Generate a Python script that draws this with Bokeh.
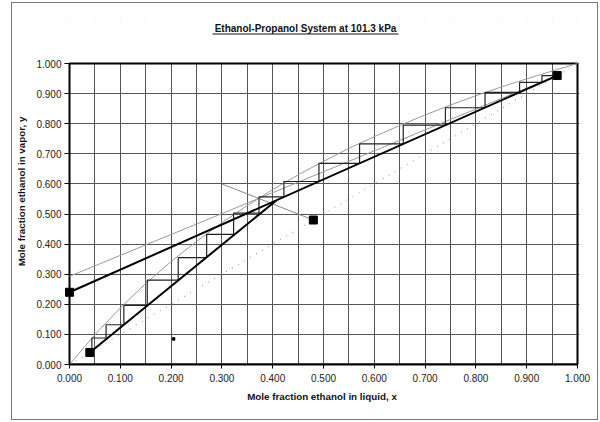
from bokeh.plotting import figure
from bokeh.models import FixedTicker, NumeralTickFormatter, Range1d
from bokeh.core.properties import value
from bokeh.embed import file_html
from bokeh.resources import INLINE

# ---------------- data ----------------
title_text = "Ethanol-Propanol System at 101.3 kPa"
x_label = "Mole fraction ethanol in liquid, x"
y_label = "Mole fraction ethanol in vapor, y"

x_ticks = [0.0, 0.1, 0.2, 0.3, 0.4, 0.5, 0.6, 0.7, 0.8, 0.9, 1.0]
x_minor = [0.05, 0.15, 0.25, 0.35, 0.45, 0.55, 0.65, 0.75, 0.85, 0.95]
y_ticks = [0.0, 0.1, 0.2, 0.3, 0.4, 0.5, 0.6, 0.7, 0.8, 0.9, 1.0]

# equilibrium curve
eq_x = [0.0, 0.05, 0.10, 0.15, 0.20, 0.25, 0.30, 0.35, 0.40, 0.45, 0.50,
        0.55, 0.60, 0.65, 0.70, 0.75, 0.80, 0.85, 0.90, 0.95, 1.0]
eq_y = [0.0, 0.099, 0.188, 0.269, 0.342, 0.409, 0.471, 0.528, 0.581, 0.630, 0.675,
        0.718, 0.757, 0.794, 0.829, 0.862, 0.893, 0.922, 0.949, 0.975, 1.0]

# 45-degree line
diag_x = [0.0, 1.0]
diag_y = [0.0, 1.0]

# rectifying operating line
rect_x = [0.0, 0.96]
rect_y = [0.24, 0.96]

# stripping operating line
strip_x = [0.04, 0.407]
strip_y = [0.04, 0.545]

# q-line
q_x = [0.48, 0.30]
q_y = [0.48, 0.60]

# minimum reflux line
minr_x = [0.0, 0.96]
minr_y = [0.293, 0.96]

# stage stepping: x of each stage on equilibrium curve, y levels
stage_x = [0.930, 0.886, 0.818, 0.740, 0.657, 0.571, 0.491, 0.422,
           0.373, 0.323, 0.270, 0.214, 0.153, 0.107, 0.072, 0.044]
stage_y = [0.960, 0.937, 0.904, 0.853, 0.795, 0.733, 0.668, 0.608, 0.557,
           0.503, 0.432, 0.355, 0.280, 0.196, 0.132, 0.088, 0.045]

# marked points: intercept, bottoms, feed, distillate
pt_x = [0.0, 0.04, 0.48, 0.96]
pt_y = [0.24, 0.04, 0.48, 0.96]

# stray small dot
dot_x = [0.205]
dot_y = [0.085]

# ---------------- build step path ----------------
path_x = [pt_x[3]]
path_y = [pt_y[3]]
for i, sx in enumerate(stage_x):
    path_x.append(sx); path_y.append(stage_y[i])
    path_x.append(sx); path_y.append(stage_y[i + 1])

# ---------------- layout constants (pixels) ----------------
FONT = "Liberation Sans"
FW, FH = 508, 301          # pixel size of the unit square
EXTRA_TOP = 45             # room inside the frame above y = 1 for the title
EXTRA_RIGHT = 2
EXTRA_LEFT = 5
X_START = -EXTRA_LEFT / FW
X_END = (FW + EXTRA_RIGHT) / FW
Y_END = (FH + EXTRA_TOP) / FH

def fx(px):  # pixel offset from left of unit square -> data x
    return px / FW

def fy(px):  # pixel offset above top of unit square -> data y
    return 1 + px / FH

p = figure(frame_width=FW + EXTRA_RIGHT + EXTRA_LEFT, frame_height=FH + EXTRA_TOP,
           min_border_left=57 - EXTRA_LEFT, min_border_right=18,
           min_border_top=15, min_border_bottom=55,
           x_range=Range1d(X_START, X_END), y_range=Range1d(0, Y_END),
           output_backend="svg", toolbar_location=None)
p.styles = {"border": "1px solid #777", "margin-left": "11px", "margin-top": "2px"}
p.background_fill_color = "white"
p.border_fill_color = "white"
p.outline_line_color = None

p.xaxis.ticker = FixedTicker(ticks=x_ticks, minor_ticks=x_minor)
p.yaxis.ticker = FixedTicker(ticks=y_ticks)
p.xaxis.formatter = NumeralTickFormatter(format="0.000")
p.yaxis.formatter = NumeralTickFormatter(format="0.000")
p.xaxis.bounds = (0, 1)
p.yaxis.bounds = (0, 1)

for ax in (p.xaxis[0], p.yaxis[0]):
    ax.axis_line_color = "black"
    ax.axis_line_width = 2
    ax.major_tick_in = 0
    ax.major_tick_out = 4
    ax.minor_tick_in = 0
    ax.minor_tick_out = 0
    ax.major_tick_line_color = "black"
    ax.major_label_text_font = FONT
    ax.major_label_text_font_size = "10px"
    ax.major_label_text_color = "#222"
    ax.axis_label_text_font = FONT
    ax.axis_label_text_font_size = "9.8px"
    ax.axis_label_text_font_style = "bold"
    ax.axis_label_text_color = "#111"
p.xaxis.axis_label = x_label
p.yaxis.axis_label = y_label
p.xaxis.major_label_standoff = 5
p.xaxis.axis_label_standoff = 6
# y axis sits at the frame edge, EXTRA_LEFT px left of x = 0: ticks reach inward to x = 0
p.yaxis.axis_line_color = None
p.yaxis.major_tick_in = EXTRA_LEFT
p.yaxis.major_tick_out = 0
p.yaxis.major_label_standoff = 3
p.yaxis.axis_label_standoff = 6

p.xgrid.grid_line_color = "#555"
p.xgrid.grid_line_width = 1
p.xgrid.minor_grid_line_color = "#555"
p.xgrid.minor_grid_line_width = 1
p.ygrid.grid_line_color = "#555"
p.ygrid.grid_line_width = 1

# white covers outside the unit square (hide grid there), then the plot-area border
p.quad(left=[X_START, X_START], right=[X_END, 0], bottom=[1, 0], top=[Y_END, 1],
       fill_color="white", line_color=None)
p.quad(left=[0], right=[1], bottom=[0], top=[1], fill_color=None,
       line_color="black", line_width=2)

# lines
p.line(diag_x, diag_y, line_color="#888", line_width=1, line_dash="1 6")
p.line(eq_x, eq_y, line_color="#999", line_width=1)
p.line(minr_x, minr_y, line_color="#999", line_width=1)
p.line(q_x, q_y, line_color="#888", line_width=1)
p.line(path_x, path_y, line_color="#222", line_width=1.2)
p.line(rect_x, rect_y, line_color="black", line_width=2)
p.line(strip_x, strip_y, line_color="black", line_width=2)
p.scatter(pt_x, pt_y, marker="square", size=8, fill_color="black", line_color="black")
p.scatter(dot_x, dot_y, marker="square", size=2.5, fill_color="black", line_color="black")

# underlined title
p.text(x=[fx(236)], y=[fy(35)], text=[title_text], text_align="center",
       text_baseline="middle", text_font=value(FONT), text_font_size="10px",
       text_font_style="bold", text_color="#111")
p.line(x=[fx(143), fx(329)], y=[fy(29.5), fy(29.5)], line_color="#111", line_width=1)

open("out.html", "w").write(file_html(p, INLINE))
